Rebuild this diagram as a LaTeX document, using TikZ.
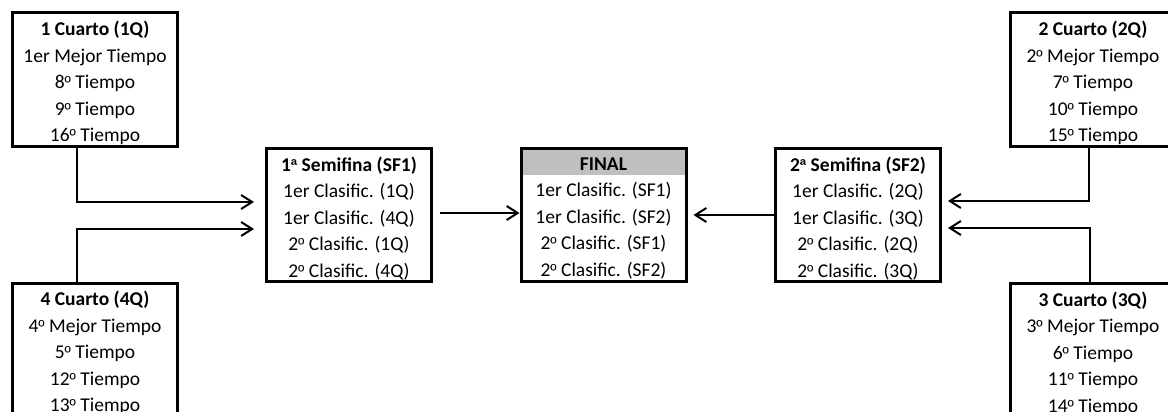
\documentclass[tikz,border=0pt]{standalone}
\usepackage{fontspec}
\setmainfont{Carlito}
\newfontfamily\ordf[Scale=0.88]{Liberation Sans}
\usetikzlibrary{arrows.meta}
\newcommand\mo{{\ordf º}}
\newcommand\fa{{\ordf ª}}
\tikzset{
  box/.style={draw, line width=3pt, minimum width=165pt, minimum height=133pt, inner sep=0pt},
  txt/.style={align=center, inner sep=0pt, font=\fontsize{19.5}{26.5}\selectfont},
  arr/.style={line width=2pt, -{Straight Barb[length=11pt,width=14pt,line width=2pt]}},
  hdr/.style={path picture={\fill[gray!50] (path picture bounding box.north west) rectangle ([yshift=-26.5pt]path picture bounding box.north east);}}
}
\begin{document}
\begin{tikzpicture}[x=1pt,y=-1pt]
\useasboundingbox (0,0) rectangle (1168,412);
\node[box] (q1) at (95,79.5) {};
\node[box] (q4) at (95,349.5) {};
\node[box] (q2) at (1093,79.5) {};
\node[box] (q3) at (1093,350) {};
\node[box] (sf1) at (349,215) {};
\node[box, hdr] (fin) at (603.5,215) {};
\node[box] (sf2) at (858,215) {};
\node[txt] (q1t) at ([yshift=-3.5pt]q1.center) {\textbf{1 Cuarto (1Q)}\\1er Mejor Tiempo\\8\mo{} Tiempo\\9\mo{} Tiempo\\16\mo{} Tiempo};
\node[txt] (q4t) at ([yshift=-3.5pt]q4.center) {\textbf{4 Cuarto (4Q)}\\4\mo{} Mejor Tiempo\\5\mo{} Tiempo\\12\mo{} Tiempo\\13\mo{} Tiempo};
\node[txt] (q2t) at ([yshift=-3.5pt]q2.center) {\textbf{2 Cuarto (2Q)}\\2\mo{} Mejor Tiempo\\7\mo{} Tiempo\\10\mo{} Tiempo\\15\mo{} Tiempo};
\node[txt] (q3t) at ([yshift=-3.5pt]q3.center) {\textbf{3 Cuarto (3Q)}\\3\mo{} Mejor Tiempo\\6\mo{} Tiempo\\11\mo{} Tiempo\\14\mo{} Tiempo};
\node[txt] (sf1t) at ([yshift=-3.5pt]sf1.center) {\textbf{1\fa{} Semifina (SF1)}\\1er Clasific. (1Q)\\1er Clasific. (4Q)\\2\mo{} Clasific. (1Q)\\2\mo{} Clasific. (4Q)};
\node[txt] (fint) at ([yshift=-3.5pt]fin.center) {\textbf{FINAL}\\1er Clasific. (SF1)\\1er Clasific. (SF2)\\2\mo{} Clasific. (SF1)\\2\mo{} Clasific. (SF2)};
\node[txt] (sf2t) at ([yshift=-3.5pt]sf2.center) {\textbf{2\fa{} Semifina (SF2)}\\1er Clasific. (2Q)\\1er Clasific. (3Q)\\2\mo{} Clasific. (2Q)\\2\mo{} Clasific. (3Q)};
\coordinate (a1) at (254,202);
\coordinate (a4) at (254,229);
\coordinate (a2) at (948,201);
\coordinate (a3) at (948,228);
\draw[arr] ([xshift=-18pt]q1.south) |- (a1);
\draw[arr] ([xshift=-18pt]q4.north) |- (a4);
\draw[arr] ([xshift=-4pt]q2.south) |- (a2);
\draw[arr] ([xshift=-3pt]q3.north) |- (a3);
\draw[arr, shorten <=7pt] ([yshift=2pt]sf1.east) -- ([yshift=2pt]fin.west);
\draw[arr, shorten >=6pt] (sf2.west) -- (fin.east);
\end{tikzpicture}
\end{document}
